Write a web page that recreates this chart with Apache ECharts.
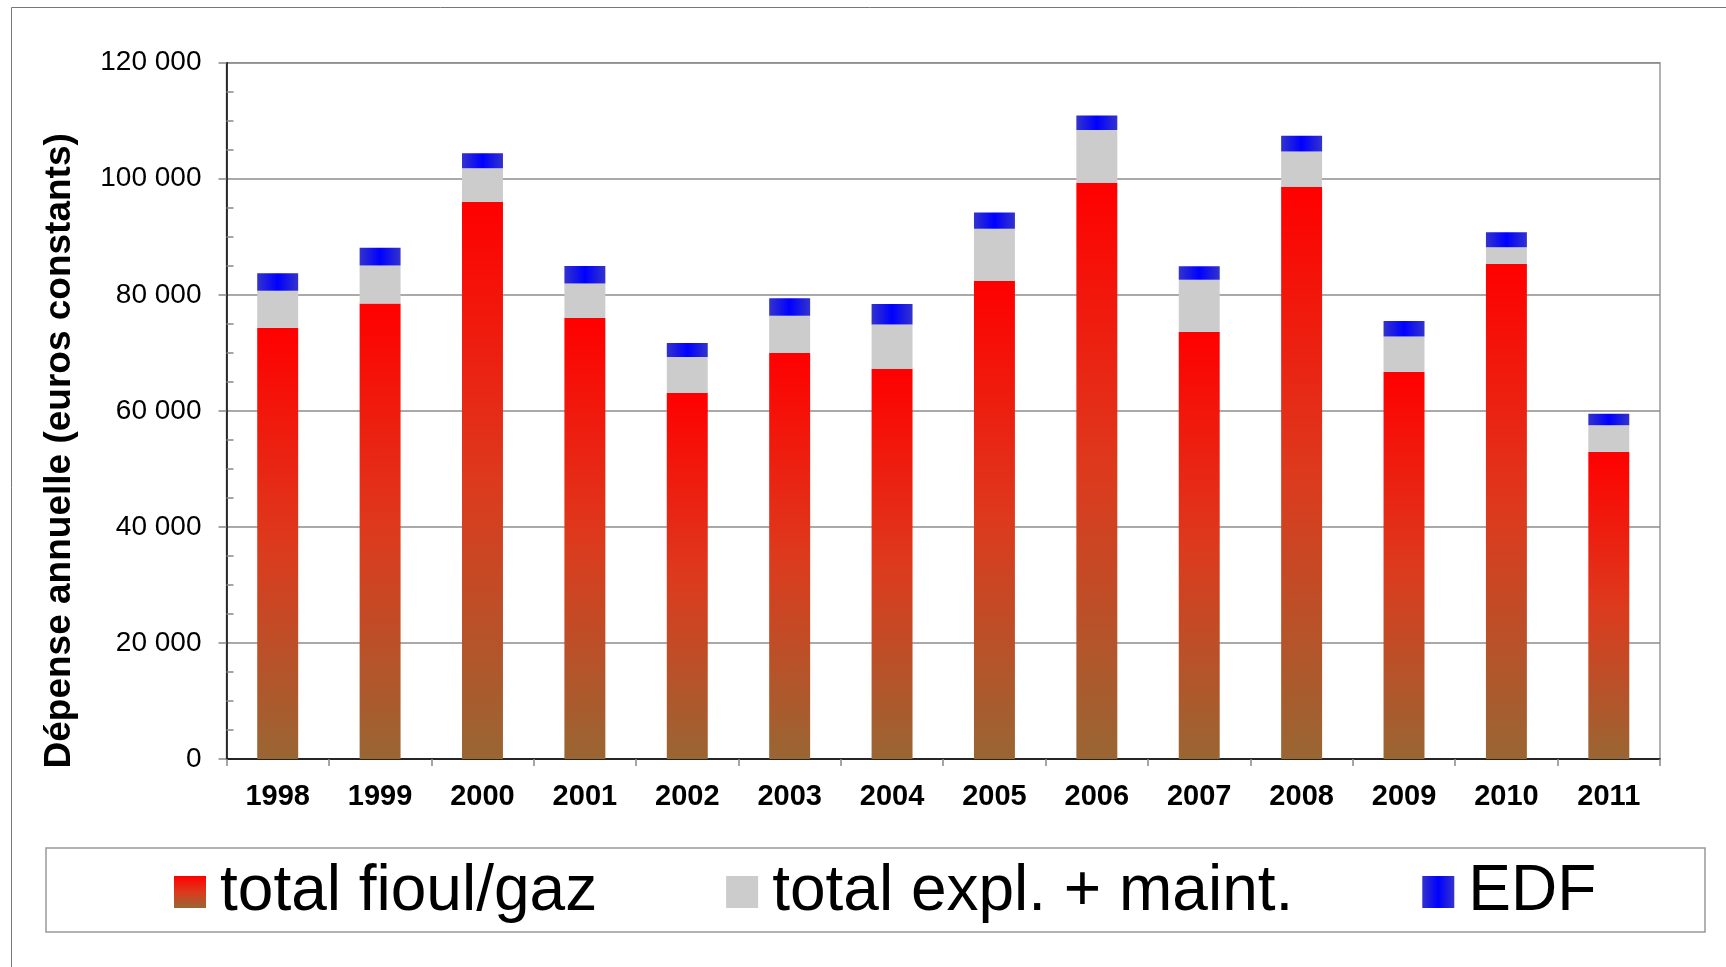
<!DOCTYPE html>
<html>
<head>
<meta charset="utf-8">
<title>Dépense annuelle</title>
<script src="https://cdn.jsdelivr.net/npm/echarts@6/dist/echarts.min.js"></script>
<style>
    html, body { margin: 0; padding: 0; background: #fff; }
    #main { width: 1726px; height: 967px; }
</style>
</head>
<body>
<div id="main"></div>
<script>
const years = ["1998", "1999", "2000", "2001", "2002", "2003", "2004", "2005", "2006", "2007", "2008", "2009", "2010", "2011"]
const fioulGaz = [74300, 78500, 96000, 76000, 63100, 70000, 67200, 82400, 99300, 73600, 98600, 66700, 85300, 52900]
const explMaint = [6400, 6550, 5800, 5950, 6200, 6400, 7700, 9000, 9100, 9000, 6100, 6100, 2900, 4600]
const edf = [3000, 3050, 2600, 3000, 2400, 3000, 3500, 2800, 2500, 2300, 2700, 2700, 2600, 2000]

const FONT = "'Liberation Sans', Arial, sans-serif"

function spaced(v) {
    return String(v).replace(/\B(?=(\d{3})+(?!\d))/g, " ")
}

let myChart = echarts.init(document.getElementById("main"), null, { renderer: "canvas" })
myChart.setOption({
    backgroundColor: "#fff",
    animation: false,
    grid: {
        left: 226.5,
        right: 66,
        top: 62.7,
        bottom: 208,
        show: true,
        borderColor: "#999",
        borderWidth: 1.5,
    },
    graphic: [
        // outer frame (open on right/bottom, like the cropped original)
        {
            type: "rect",
            shape: { x: 11.5, y: 7.5, width: 1800, height: 1100 },
            style: { fill: null, stroke: "#777", lineWidth: 1 },
            silent: true,
        },
        // legend frame
        {
            type: "rect",
            shape: { x: 46, y: 848, width: 1659, height: 84 },
            style: { fill: null, stroke: "#999", lineWidth: 1.5 },
            silent: true,
        },
    ],
    legend: {
        left: 174,
        top: 860,
        padding: 0,
        icon: "rect",
        itemWidth: 32,
        itemHeight: 32,
        itemGap: 129,
        textStyle: {
            fontFamily: FONT,
            fontSize: 64,
            lineHeight: 60,
            color: "#000",
            padding: [0, 0, 0, 9],
        },
        data: ["total fioul/gaz", "total expl. + maint.", "EDF"],
    },
    xAxis: {
        type: "category",
        data: years,
        boundaryGap: true,
        axisLine: { lineStyle: { color: "#000", width: 1.5 } },
        axisTick: { show: true, length: 7, lineStyle: { color: "#888", width: 1.5 } },
        axisLabel: {
            margin: 23,
            color: "#000",
            fontFamily: FONT,
            fontWeight: "bold",
            fontSize: 29,
        },
        splitLine: { show: false },
    },
    yAxis: {
        type: "value",
        min: 0,
        max: 120000,
        interval: 20000,
        name: "Dépense annuelle (euros constants)",
        nameLocation: "middle",
        nameGap: 148,
        nameRotate: 90,
        nameTextStyle: {
            fontFamily: FONT,
            fontWeight: "bold",
            fontSize: 37,
            color: "#000",
            padding: [0, 80, 0, 0],
        },
        axisLine: { show: true, lineStyle: { color: "#000", width: 1.5 } },
        axisTick: { show: true, length: 8, lineStyle: { color: "#888", width: 1.5 } },
        minorTick: { show: true, splitNumber: 4, length: -7, lineStyle: { color: "#888", width: 1.5 } },
        axisLabel: {
            margin: 25,
            color: "#000",
            fontFamily: FONT,
            fontSize: 28,
            formatter: spaced,
        },
        splitLine: { show: true, lineStyle: { color: "#8c8c8c", width: 1.5 } },
    },
    series: [
        {
            name: "total fioul/gaz",
            type: "bar",
            stack: "total",
            barWidth: "40%",
            itemStyle: {
                color: new echarts.graphic.LinearGradient(0, 0, 0, 1, [
                    { offset: 0, color: "#ff0000" },
                    { offset: 0.5, color: "#dd3a1d" },
                    { offset: 1, color: "#996633" },
                ]),
            },
            data: fioulGaz,
        },
        {
            name: "total expl. + maint.",
            type: "bar",
            stack: "total",
            barWidth: "40%",
            itemStyle: { color: "#cccccc" },
            data: explMaint,
        },
        {
            name: "EDF",
            type: "bar",
            stack: "total",
            barWidth: "40%",
            itemStyle: {
                color: new echarts.graphic.LinearGradient(0, 0, 1, 0, [
                    { offset: 0, color: "#3333cc" },
                    { offset: 0.5, color: "#0000ff" },
                    { offset: 1, color: "#3333cc" },
                ]),
            },
            data: edf,
        },
    ],
})
</script>
</body>
</html>
